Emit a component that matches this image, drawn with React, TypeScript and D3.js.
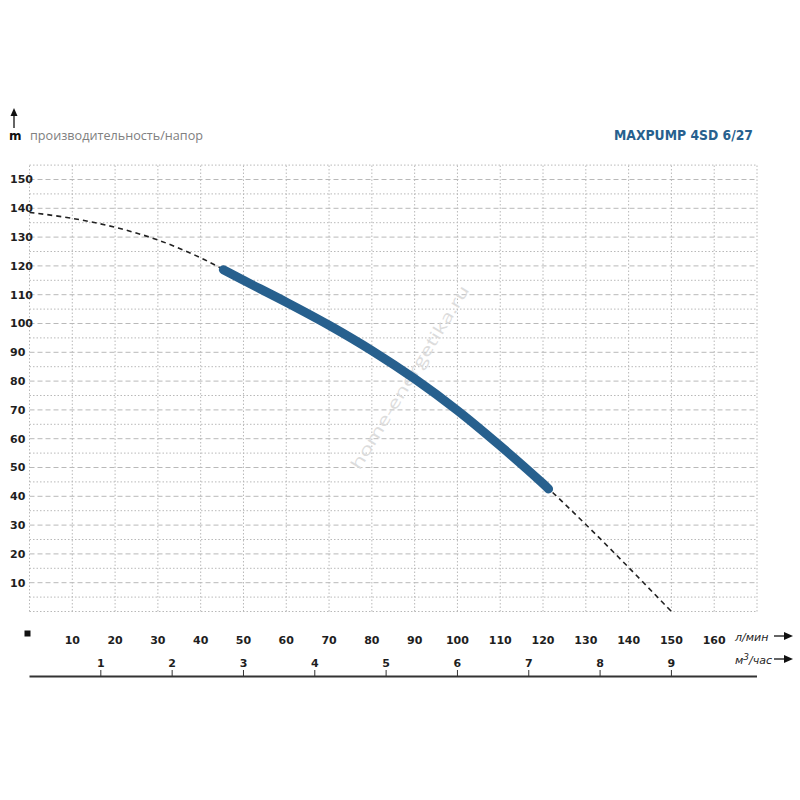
import * as d3 from "d3";

// pump curve (flow l/min, head m)
const curveQ = [0, 10, 20, 30, 40, 50, 60, 70, 80, 90, 100, 110, 120, 130, 140, 150];
const curveH = [138.6, 136.5, 133.4, 129.0, 122.8, 115.0, 107.4, 99.4, 90.6, 80.8, 69.8, 57.5, 44.4, 30.2, 15.3, 0];
// working range drawn as the thick blue band
const workRange = [45.3, 121.3];

const headTicks = [10, 20, 30, 40, 50, 60, 70, 80, 90, 100, 110, 120, 130, 140, 150];
const flowTicks = [10, 20, 30, 40, 50, 60, 70, 80, 90, 100, 110, 120, 130, 140, 150, 160];
const cubicTicks = [1, 2, 3, 4, 5, 6, 7, 8, 9];

const title = "MAXPUMP 4SD 6/27";
const subtitle = "производительность/напор";
const blue = "#27608e";
const gridColor = "#b9b9b9";

export default function App() {
  const width = 800;
  const height = 800;
  const x = d3.scaleLinear([0, 170], [29.5, 757]);
  const y = d3.scaleLinear([0, 150], [611.5, 179.5]);
  const xm3 = (v: number) => x((v * 1000) / 60);

  const line = d3
    .line<[number, number]>()
    .x((d) => x(d[0]))
    .y((d) => y(d[1]))
    .curve(d3.curveCatmullRom.alpha(0.5));
  const allPts = curveQ.map((q, i) => [q, curveH[i]] as [number, number]);
  const headAt = d3.scaleLinear(curveQ, curveH);
  const workPts: [number, number][] = [
    [workRange[0], headAt(workRange[0])],
    ...allPts.filter((p) => p[0] > workRange[0] && p[0] < workRange[1]),
    [workRange[1], headAt(workRange[1])],
  ];

  const vLines = d3.range(0, 171, 10);
  const hMinor = d3.range(5, 156, 10).concat([0]);
  const font = "'DejaVu Sans', Verdana, sans-serif";

  return (
    <svg
      width={width}
      height={height}
      viewBox={`0 0 ${width} ${height}`}
      style={{ position: "absolute", left: 0, top: 0, background: "#fff" }}
      fontFamily={font}
    >
      <defs>
        <clipPath id="outside">
          <rect x={0} y={0} width={x(workRange[0]) - 2} height={height} />
          <rect x={x(workRange[1]) + 2} y={0} width={width} height={height} />
        </clipPath>
      </defs>
      <rect width={width} height={height} fill="#fff" />

      {/* grid */}
      {vLines.map((v) => (
        <line
          key={`v${v}`}
          x1={x(v)}
          x2={x(v)}
          y1={y(0)}
          y2={y(155)}
          stroke={gridColor}
          strokeWidth={1}
          strokeDasharray="1.5 2"
        />
      ))}
      {hMinor.map((v) => (
        <line
          key={`hm${v}`}
          x1={x(0)}
          x2={x(170)}
          y1={y(v)}
          y2={y(v)}
          stroke={gridColor}
          strokeWidth={1}
          strokeDasharray="1.5 2"
        />
      ))}
      {headTicks.map((v) => (
        <line
          key={`h${v}`}
          x1={x(0)}
          x2={x(170)}
          y1={y(v)}
          y2={y(v)}
          stroke={gridColor}
          strokeWidth={1}
          strokeDasharray="5 3"
        />
      ))}

      {/* watermark */}
      <text
        transform="translate(411,378) rotate(-58.6)"
        textAnchor="middle"
        dominantBaseline="middle"
        fontSize={16}
        fill="#dcdcdc"
        fontFamily="'Open Sans', sans-serif"
        textLength={212}
        lengthAdjust="spacingAndGlyphs"
      >
        home-energetika.ru
      </text>

      {/* curve */}
      <path
        d={line(allPts) ?? undefined}
        fill="none"
        stroke="#222"
        strokeWidth={1.6}
        strokeDasharray="5 4"
        clipPath="url(#outside)"
      />
      <path
        d={line(workPts) ?? undefined}
        fill="none"
        stroke={blue}
        strokeWidth={9}
        strokeLinecap="round"
      />

      {/* y labels */}
      {headTicks.map((v) => (
        <text
          key={`yl${v}`}
          x={10}
          y={y(v)}
          dy="0.35em"
          fontSize={11}
          fontWeight="bold"
          fill="#1e1e1e"
        >
          {v}
        </text>
      ))}

      {/* header */}
      <line x1={14} x2={14} y1={128} y2={114} stroke="#111" strokeWidth={1.3} />
      <path d="M10.5,116 L14,108 L17.5,116 Z" fill="#111" />
      <text x={9} y={140} fontSize={12} fontWeight="bold" fill="#111">
        m
      </text>
      <text
        x={30}
        y={140}
        fontSize={13.5}
        fill="#808080"
        fontFamily="'Open Sans', sans-serif"
        textLength={173}
        lengthAdjust="spacingAndGlyphs"
      >
        {subtitle}
      </text>
      <text
        x={614}
        y={140}
        fontSize={14}
        fontWeight="bold"
        fill={blue}
        textLength={139}
        lengthAdjust="spacingAndGlyphs"
      >
        {title}
      </text>

      {/* flow axis l/min */}
      <rect x={24.5} y={630.5} width={6} height={6} fill="#111" />
      {flowTicks.map((v) => (
        <text
          key={`xl${v}`}
          x={x(v)}
          y={644}
          textAnchor="middle"
          fontSize={11}
          fontWeight="bold"
          fill="#1e1e1e"
        >
          {v}
        </text>
      ))}
      <text x={735} y={641} fontSize={11} fontStyle="italic" fill="#1e1e1e">
        л/мин
      </text>
      <line x1={774} x2={786} y1={636} y2={636} stroke="#111" strokeWidth={1.3} />
      <path d="M784,632 L793,636 L784,640 Z" fill="#111" />

      {/* flow axis m3/h */}
      {cubicTicks.map((v) => (
        <g key={`m${v}`}>
          <text
            x={xm3(v)}
            y={667}
            textAnchor="middle"
            fontSize={11}
            fontWeight="bold"
            fill="#1e1e1e"
          >
            {v}
          </text>
          <line x1={xm3(v)} x2={xm3(v)} y1={670} y2={676} stroke="#333" strokeWidth={1} />
        </g>
      ))}
      <text x={735} y={664} fontSize={11} fontStyle="italic" fill="#1e1e1e">
        м
        <tspan dy={-4} fontSize={9}>
          3
        </tspan>
        <tspan dy={4}>/час</tspan>
      </text>
      <line x1={774} x2={786} y1={659} y2={659} stroke="#111" strokeWidth={1.3} />
      <path d="M784,655 L793,659 L784,663 Z" fill="#111" />
      <line x1={29.5} x2={757} y1={676.5} y2={676.5} stroke="#333" strokeWidth={2} />
    </svg>
  );
}
